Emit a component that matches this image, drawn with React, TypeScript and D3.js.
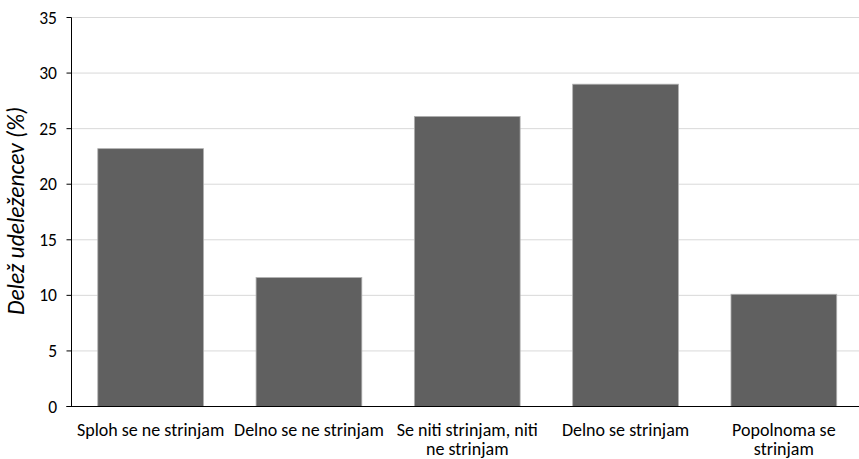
import React from "react";
import * as d3 from "d3";

const categories: string[][] = [
  ["Sploh se ne strinjam"],
  ["Delno se ne strinjam"],
  ["Se niti strinjam, niti", "ne strinjam"],
  ["Delno se strinjam"],
  ["Popolnoma se", "strinjam"],
];
const values: number[] = [23.2, 11.6, 26.1, 29.0, 10.1];
const yTicks: number[] = [0, 5, 10, 15, 20, 25, 30, 35];
const yTitle = "Delež udeležencev (%)";

const W = 859;
const H = 459;
const FONT = "Carlito, Calibri, 'Open Sans', 'Liberation Sans', sans-serif";

export default function App() {
  const left = 71.5;
  const right = 863;
  const top = 17.5;
  const bottom = 406.5;
  const idx = categories.map((_, i) => String(i));
  const x = d3.scaleBand<string>().domain(idx).range([left, right]).paddingInner(0.332).paddingOuter(0.166);
  const y = d3.scaleLinear().domain([0, 35]).range([bottom, top]);

  return (
    <svg width={W} height={H} style={{ position: "absolute", left: 0, top: 0, background: "#fff" }}>
      {yTicks.map((t) => (
        <g key={t}>
          {t > 0 && (
            <line x1={left} x2={W} y1={y(t)} y2={y(t)} stroke="#d9d9d9" strokeWidth={1} />
          )}
          <line x1={left - 5} x2={left} y1={y(t)} y2={y(t)} stroke="#000" strokeWidth={1} />
          <text x={57} y={y(t)} dy="0.35em" textAnchor="end" fontFamily={FONT} fontSize={17.5} fill="#000">
            {t}
          </text>
        </g>
      ))}
      {values.map((v, i) => (
        <rect
          key={i}
          x={x(String(i))!}
          y={y(v)}
          width={x.bandwidth()}
          height={y(0) - y(v)}
          fill="#606060"
          stroke="#b0b0b0"
          strokeWidth={0.8}
        />
      ))}
      <line x1={left} x2={left} y1={top} y2={bottom} stroke="#000" strokeWidth={1} />
      <line x1={left - 5} x2={W} y1={bottom} y2={bottom} stroke="#000" strokeWidth={1} />
      {categories.map((lines, i) => (
        <text
          key={i}
          x={x(String(i))! + x.bandwidth() / 2}
          y={436}
          textAnchor="middle"
          fontFamily={FONT}
          fontSize={18}
          fill="#000"
        >
          {lines.map((l, j) => (
            <tspan key={j} x={x(String(i))! + x.bandwidth() / 2} dy={j === 0 ? 0 : 19}>
              {l}
            </tspan>
          ))}
        </text>
      ))}
      <text
        transform={`translate(24, 211) rotate(-90)`}
        textAnchor="middle"
        fontFamily={FONT}
        fontSize={23.5}
        fontStyle="italic"
        fill="#000"
      >
        {yTitle}
      </text>
    </svg>
  );
}
